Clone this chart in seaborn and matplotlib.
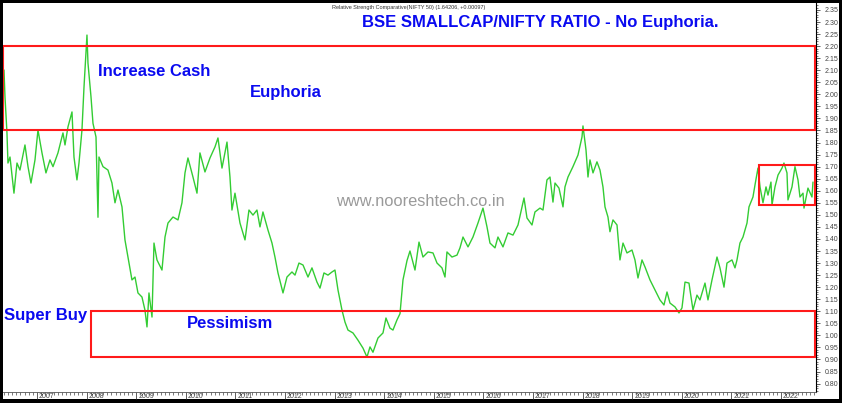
import numpy as np
import pandas as pd
import seaborn as sns
import matplotlib.pyplot as plt
import matplotlib.transforms as mtransforms
from matplotlib.patches import Rectangle
from matplotlib.ticker import MultipleLocator, FormatStrFormatter, FixedLocator

# BSE Smallcap / Nifty ratio (decimal year, ratio)
years = [
    2006.335, 2006.355, 2006.395, 2006.415, 2006.456, 2006.536, 2006.597, 2006.657,
    2006.758, 2006.819, 2006.879, 2006.960, 2007.020, 2007.101, 2007.181, 2007.262,
    2007.323, 2007.423, 2007.524, 2007.565, 2007.625, 2007.706, 2007.746, 2007.806,
    2007.847, 2007.907, 2007.948, 2008.008, 2008.028, 2008.089, 2008.129, 2008.190,
    2008.230, 2008.250, 2008.331, 2008.431, 2008.512, 2008.573, 2008.633, 2008.714,
    2008.774, 2008.835, 2008.915, 2008.976, 2009.036, 2009.117, 2009.177, 2009.218,
    2009.258, 2009.319, 2009.359, 2009.419, 2009.520, 2009.581, 2009.641, 2009.742,
    2009.843, 2009.923, 2009.984, 2010.044, 2010.145, 2010.226, 2010.286, 2010.387,
    2010.488, 2010.589, 2010.649, 2010.730, 2010.831, 2010.891, 2010.931, 2010.992,
    2011.093, 2011.194, 2011.274, 2011.355, 2011.435, 2011.496, 2011.556, 2011.657,
    2011.738, 2011.798, 2011.859, 2011.960, 2012.040, 2012.141, 2012.202, 2012.282,
    2012.363, 2012.464, 2012.544, 2012.645, 2012.706, 2012.786, 2012.867, 2012.948,
    2013.008, 2013.069, 2013.149, 2013.210, 2013.270, 2013.371, 2013.472, 2013.573,
    2013.653, 2013.714, 2013.774, 2013.875, 2013.976, 2014.036, 2014.117, 2014.177,
    2014.258, 2014.319, 2014.379, 2014.460, 2014.520, 2014.621, 2014.702, 2014.782,
    2014.883, 2014.984, 2015.065, 2015.165, 2015.226, 2015.266, 2015.367, 2015.468,
    2015.528, 2015.589, 2015.690, 2015.790, 2015.891, 2015.992, 2016.073, 2016.133,
    2016.234, 2016.294, 2016.395, 2016.496, 2016.597, 2016.698, 2016.819, 2016.879,
    2016.980, 2017.040, 2017.141, 2017.202, 2017.282, 2017.343, 2017.403, 2017.444,
    2017.524, 2017.605, 2017.645, 2017.706, 2017.806, 2017.907, 2017.988, 2018.008,
    2018.069, 2018.109, 2018.149, 2018.210, 2018.290, 2018.351, 2018.411, 2018.452,
    2018.512, 2018.552, 2018.613, 2018.694, 2018.754, 2018.815, 2018.895, 2018.996,
    2019.056, 2019.117, 2019.198, 2019.258, 2019.359, 2019.460, 2019.560, 2019.641,
    2019.702, 2019.762, 2019.863, 2019.944, 2020.004, 2020.065, 2020.145, 2020.226,
    2020.306, 2020.367, 2020.468, 2020.528, 2020.609, 2020.710, 2020.770, 2020.851,
    2020.911, 2021.012, 2021.073, 2021.113, 2021.173, 2021.234, 2021.315, 2021.355,
    2021.435, 2021.476, 2021.536, 2021.577, 2021.637, 2021.698, 2021.738, 2021.798,
    2021.819, 2021.879, 2021.940, 2022.020, 2022.060, 2022.121, 2022.141, 2022.222,
    2022.282, 2022.343, 2022.383, 2022.444, 2022.464, 2022.544, 2022.625, 2022.645,
]
ratio = [
    2.101, 1.990, 1.840, 1.715, 1.740, 1.590, 1.715, 1.686,
    1.790, 1.700, 1.632, 1.728, 1.852, 1.757, 1.674, 1.728,
    1.700, 1.757, 1.840, 1.790, 1.865, 1.927, 1.740, 1.645,
    1.715, 1.852, 2.030, 2.246, 2.130, 1.990, 1.880, 1.823,
    1.490, 1.740, 1.700, 1.686, 1.632, 1.550, 1.603, 1.533,
    1.396, 1.325, 1.230, 1.242, 1.176, 1.159, 1.105, 1.035,
    1.176, 1.076, 1.383, 1.313, 1.271, 1.408, 1.466, 1.491,
    1.479, 1.550, 1.674, 1.736, 1.657, 1.590, 1.757, 1.678,
    1.736, 1.782, 1.819, 1.694, 1.802, 1.657, 1.520, 1.590,
    1.466, 1.396, 1.520, 1.499, 1.520, 1.450, 1.512, 1.437,
    1.383, 1.325, 1.259, 1.176, 1.242, 1.263, 1.250, 1.300,
    1.292, 1.242, 1.280, 1.221, 1.196, 1.259, 1.250, 1.263,
    1.271, 1.188, 1.105, 1.055, 1.022, 1.010, 0.980, 0.947,
    0.910, 0.952, 0.930, 0.989, 1.010, 1.072, 1.030, 1.022,
    1.064, 1.090, 1.230, 1.310, 1.350, 1.271, 1.387, 1.325,
    1.346, 1.342, 1.300, 1.280, 1.242, 1.346, 1.325, 1.333,
    1.363, 1.408, 1.367, 1.408, 1.466, 1.528, 1.450, 1.383,
    1.363, 1.408, 1.367, 1.425, 1.416, 1.458, 1.570, 1.487,
    1.458, 1.512, 1.528, 1.520, 1.645, 1.657, 1.553, 1.632,
    1.611, 1.533, 1.616, 1.657, 1.700, 1.748, 1.823, 1.869,
    1.769, 1.657, 1.728, 1.674, 1.720, 1.686, 1.616, 1.533,
    1.491, 1.430, 1.479, 1.458, 1.313, 1.383, 1.342, 1.354,
    1.313, 1.238, 1.313, 1.284, 1.230, 1.188, 1.147, 1.126,
    1.180, 1.134, 1.118, 1.093, 1.114, 1.221, 1.217, 1.105,
    1.167, 1.147, 1.217, 1.147, 1.230, 1.325, 1.280, 1.200,
    1.300, 1.313, 1.280, 1.313, 1.383, 1.408, 1.466, 1.533,
    1.574, 1.624, 1.694, 1.616, 1.550, 1.616, 1.582, 1.636,
    1.541, 1.616, 1.665, 1.694, 1.715, 1.674, 1.562, 1.616,
    1.700, 1.645, 1.574, 1.590, 1.528, 1.611, 1.574, 1.636,
]
year_ticks = list(range(2007, 2023))

# zones drawn as red boxes (value levels)
euphoria_band = (1.85, 2.20)
pessimism_band = (0.91, 1.10)
pessimism_start = 2008.09
recent_band = (1.54, 1.705)
recent_start = 2021.56

df = pd.DataFrame({"year": years, "ratio": ratio})

sns.set_style("white")
plt.rcParams["font.family"] = ["Liberation Sans", "DejaVu Sans"]

fig = plt.figure(figsize=(8.42, 4.03), dpi=100)
fig.patch.set_facecolor("black")
fig.patches.append(Rectangle((3 / 842, 4 / 403), 836 / 842, 396 / 403,
                             transform=fig.transFigure, facecolor="white",
                             edgecolor="none", zorder=-10))

ax = fig.add_axes([3 / 842, 11 / 403, 813 / 842, 389 / 403])
ax.set_facecolor("white")

sns.lineplot(data=df, x="year", y="ratio", color="#33cc33", linewidth=1.0, ax=ax)

xmin, xmax = 2006.315, 2022.706
ax.set_xlim(xmin, xmax)
ax.set_ylim(0.765, 2.379)

box = dict(fill=False, edgecolor="#ff1a1a", linewidth=1.5, zorder=3)
ax.add_patch(Rectangle((xmin + 0.01, euphoria_band[0]), xmax - xmin - 0.03,
                       euphoria_band[1] - euphoria_band[0], **box))
ax.add_patch(Rectangle((pessimism_start, pessimism_band[0]), xmax - pessimism_start - 0.02,
                       pessimism_band[1] - pessimism_band[0], **box))
ax.add_patch(Rectangle((recent_start, recent_band[0]), xmax - recent_start - 0.02,
                       recent_band[1] - recent_band[0], **box))

blue = "#0a0af0"
ax.text(2008.23, 2.093, "Increase Cash", color=blue, fontsize=12, fontweight="bold", va="center")
ax.text(2011.29, 2.006, "Euphoria", color=blue, fontsize=12, fontweight="bold", va="center")
ax.text(2006.33, 1.084, "Super Buy", color=blue, fontsize=12, fontweight="bold", va="center")
ax.text(2010.02, 1.051, "Pessimism", color=blue, fontsize=12, fontweight="bold", va="center")
ax.text(2017.14, 2.300, "BSE SMALLCAP/NIFTY RATIO - No Euphoria.", color=blue,
        fontsize=12, fontweight="bold", ha="center", va="center")
ax.text(2012.95, 2.362, "Relative Strength Comparative(NIFTY 50) (1.64206, +0.00097)",
        color="#333333", fontsize=4, va="center")
ax.text(2013.03, 1.557, "www.nooreshtech.co.in", color="#9a9a9a", fontsize=11.8, va="center")

# right hand price axis
ax.yaxis.tick_right()
ax.yaxis.set_major_locator(MultipleLocator(0.05))
ax.yaxis.set_minor_locator(MultipleLocator(0.01))
ax.yaxis.set_major_formatter(FormatStrFormatter("%.2f"))
ax.tick_params(axis="y", which="major", length=3, width=0.6, labelsize=5, pad=3,
               colors="#444444", right=True, left=False)
ax.tick_params(axis="y", which="minor", length=1.5, width=0.5, colors="#444444", right=True)

# year axis, labels sit just right of the year tick
ax.xaxis.set_major_locator(FixedLocator(year_ticks))
ax.xaxis.set_minor_locator(MultipleLocator(1 / 12))
ax.set_xticklabels([str(y) for y in year_ticks])
ax.tick_params(axis="x", which="major", length=5, width=0.6, labelsize=5, pad=-4.3,
               colors="#444444", bottom=True)
ax.tick_params(axis="x", which="minor", length=2, width=0.5, colors="#444444", bottom=True)
shift = mtransforms.ScaledTranslation(2 / 100, 0, fig.dpi_scale_trans)
for lab in ax.get_xticklabels():
    lab.set_horizontalalignment("left")
    lab.set_transform(lab.get_transform() + shift)

ax.set_xlabel("")
ax.set_ylabel("")
for side in ["left", "top"]:
    ax.spines[side].set_visible(False)
ax.spines["right"].set_color("black")
ax.spines["right"].set_linewidth(0.8)
ax.spines["bottom"].set_color("#555555")
ax.spines["bottom"].set_linewidth(0.6)

fig.savefig("out.png", dpi=100, facecolor=fig.get_facecolor())
plt.close()
